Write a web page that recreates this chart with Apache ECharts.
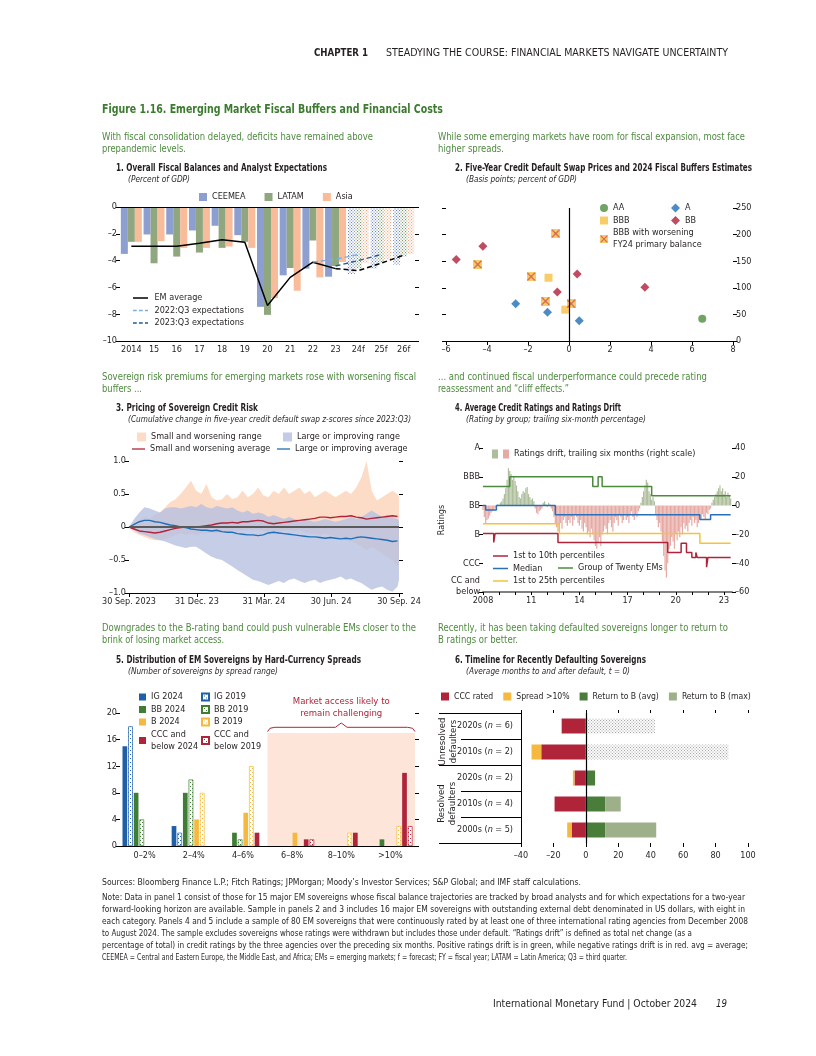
<!DOCTYPE html>
<html><head><meta charset="utf-8">
<script src="https://cdn.jsdelivr.net/npm/echarts@6/dist/echarts.min.js"></script>
<style>
html,body{margin:0;padding:0;background:#fff;}
#page{position:relative;width:816px;height:1056px;overflow:hidden;font-family:'Liberation Sans Narrow','DejaVu Sans Condensed','Roboto Condensed',Roboto,sans-serif;color:#231f20;}
#chart{position:absolute;left:0;top:0;width:816px;height:1056px;}
.t{position:absolute;white-space:nowrap;transform-origin:0 50%;line-height:1.15;}
</style></head>
<body><div id="page"><div id="chart"></div></div>
<script>
// ---------------- DATA ----------------
// Panel 1
const p1Cats = ['2014','15','16','17','18','19','20','21','22','23','24f','25f','26f'];
const p1FirstForecast = 10;
const p1CEEMEA = [-3.5,-2.05,-2.05,-1.75,-1.4,-2.1,-7.45,-5.1,-4.6,-5.2,-5.0,-4.6,-4.3];
const p1LATAM = [-2.6,-4.2,-3.7,-3.4,-3.05,-2.6,-8.05,-4.55,-2.5,-4.4,-4.6,-4.2,-3.7];
const p1Asia = [-2.6,-2.55,-3.05,-3.05,-2.95,-3.05,-6.8,-6.25,-5.25,-4.1,-4.2,-3.9,-3.5];
const p1EMavg = [-2.93,-2.93,-2.93,-2.7,-2.45,-2.63,-7.35,-5.25,-4.12,-4.6,null,null,null];
const p1EMfcst = [null,null,null,null,null,null,null,null,null,-4.6,-4.75,-4.2,-3.6];
const p1Exp2022 = [null,null,null,null,null,null,null,null,-4.1,-3.9,-3.55,null,null];
const p1Exp2023 = [null,null,null,null,null,null,null,null,null,-4.4,-4.0,-3.55,null];
// Panel 2  [fiscal buffer, CDS bp]
const p2AA = [[6.5,42]];
const p2A = [[-2.6,70],[-1.05,54],[0.5,38]];
const p2BBB = [[-1.0,119],[-0.18,59]];
const p2BB = [[-4.2,178],[-5.5,153],[0.4,126],[-0.57,92],[3.7,101]];
const p2BBBw = [[-0.65,202],[-4.45,144],[-1.85,121],[-1.15,75],[0.1,70]];
// Panel 3 (days since 30 Sep 2023)
const p3Days = [0,7,14,21,28,35,42,49,56,63,70,77,84,91,98,105,112,119,126,133,140,147,154,161,168,175,182,189,196,203,210,217,224,231,238,245,252,259,266,273,280,287,294,301,308,315,322,329,336,343,350,357,364,366];
const p3TickDays = [0,92,183,274,366];
const p3TickLabels = ['30 Sep. 2023','31 Dec. 23','31 Mar. 24','30 Jun. 24','30 Sep. 24'];
const p3SmallAvg = [0,-0.03,-0.06,-0.07,-0.08,-0.09,-0.08,-0.06,-0.04,-0.02,-0.01,0,0,0,0.01,0.02,0.03,0.05,0.06,0.06,0.07,0.06,0.08,0.08,0.09,0.1,0.09,0.06,0.05,0.06,0.07,0.08,0.09,0.1,0.11,0.12,0.13,0.15,0.15,0.14,0.15,0.16,0.16,0.17,0.15,0.14,0.12,0.13,0.14,0.15,0.16,0.17,0.16,0.15];
const p3LargeAvg = [0,0.04,0.08,0.1,0.1,0.08,0.07,0.05,0.03,0.02,0,-0.01,-0.03,-0.04,-0.05,-0.05,-0.06,-0.05,-0.07,-0.08,-0.08,-0.1,-0.11,-0.12,-0.12,-0.13,-0.12,-0.09,-0.08,-0.09,-0.1,-0.11,-0.12,-0.13,-0.14,-0.15,-0.15,-0.16,-0.17,-0.16,-0.17,-0.18,-0.17,-0.18,-0.16,-0.15,-0.16,-0.17,-0.18,-0.19,-0.2,-0.22,-0.21,-0.2];
const p3SmallHi = [0,0.05,0.1,0.15,0.12,0.18,0.22,0.3,0.38,0.42,0.5,0.6,0.7,0.55,0.5,0.65,0.45,0.4,0.42,0.5,0.42,0.45,0.55,0.45,0.5,0.6,0.48,0.45,0.55,0.5,0.6,0.5,0.55,0.6,0.5,0.55,0.45,0.5,0.55,0.5,0.45,0.5,0.55,0.5,0.6,0.75,1.0,0.55,0.4,0.45,0.5,0.55,0.5,0.45];
const p3SmallLo = [0,-0.08,-0.12,-0.15,-0.18,-0.2,-0.2,-0.18,-0.15,-0.12,-0.1,-0.12,-0.1,-0.12,-0.1,-0.1,-0.08,-0.1,-0.08,-0.06,-0.05,-0.06,-0.05,-0.04,-0.05,-0.04,-0.05,-0.1,-0.08,-0.06,-0.05,-0.05,-0.06,-0.05,-0.08,-0.1,-0.1,-0.12,-0.1,-0.12,-0.15,-0.18,-0.2,-0.22,-0.25,-0.3,-0.35,-0.3,-0.35,-0.4,-0.45,-0.5,-0.6,-0.55];
const p3LargeHi = [0,0.12,0.22,0.3,0.28,0.25,0.22,0.28,0.3,0.3,0.28,0.3,0.32,0.3,0.35,0.3,0.28,0.32,0.3,0.28,0.3,0.25,0.22,0.25,0.2,0.22,0.2,0.15,0.18,0.15,0.12,0.15,0.12,0.1,0.12,0.1,0.08,0.1,0.12,0.1,0.08,0.1,0.12,0.15,0.12,0.15,0.2,0.25,0.2,0.15,0.18,0.15,0.12,0.1];
const p3LargeLo = [0,-0.05,-0.1,-0.12,-0.15,-0.18,-0.2,-0.22,-0.25,-0.28,-0.3,-0.32,-0.3,-0.3,-0.35,-0.4,-0.45,-0.48,-0.5,-0.55,-0.6,-0.65,-0.7,-0.75,-0.8,-0.82,-0.85,-0.88,-0.85,-0.82,-0.85,-0.8,-0.78,-0.82,-0.85,-0.82,-0.8,-0.85,-0.82,-0.8,-0.78,-0.75,-0.8,-0.78,-0.82,-0.85,-0.9,-0.95,-0.92,-0.9,-0.95,-0.98,-0.9,-0.8];
// Panel 4 (months since Dec 2008)
const p4XLabels = ['2008','11','14','17','20','23'];
const p4LabelMonths = [0,36,72,108,144,180];
const p4TickMonths = [0,12,24,36,48,60,72,84,96,108,120,132,144,156,168,180];
const p4RatingLabels = ['CC and\nbelow','CCC','B','BB','BBB','A'];
const p4Drift = [-3,-8,-12,-10,-9,-7,-5,-4,-3,-2,-1,1,0,2,3,5,8,12,18,26,24,22,18,20,17,14,10,6,5,8,10,9,12,13,8,6,4,5,3,-2,-5,-6,-4,-3,-2,2,3,1,-1,2,1,-2,-4,-8,-12,-15,-18,-14,-12,-16,-10,-8,-12,-14,-10,-12,-8,-14,-10,-6,-8,-12,-14,-10,-16,-18,-12,-15,-20,-18,-22,-16,-20,-24,-28,-30,-26,-22,-28,-20,-18,-14,-16,-20,-12,-10,-15,-18,-12,-8,-10,-14,-6,-8,-12,-10,-6,-10,-8,-12,-6,-4,-8,-10,-6,-8,-4,-2,2,6,10,14,18,16,10,8,4,6,3,-6,-10,-15,-12,-18,-25,-35,-45,-50,-40,-30,-28,-22,-25,-30,-20,-24,-18,-22,-15,-20,-12,-16,-14,-18,-12,-10,-14,-8,-12,-10,-15,-12,-8,-10,-6,-8,-10,-5,-6,-3,-2,2,4,6,8,10,12,14,10,12,8,10,6,9,7,5];
const p4G20 = [[0,3.66],[20,4.0],[82,3.66],[86,4.0],[89,3.66],[126,3.34],[185,3.34]];
const p4Median = [[0,3.0],[2,2.85],[10,3.0],[54,2.68],[162,2.52],[170,2.68],[185,2.68]];
const p4P25 = [[0,2.37],[57,2.03],[162,1.69],[185,1.69]];
const p4P10 = [[0,2.03],[8,1.72],[9,2.03],[56,1.72],[138,1.37],[148,1.69],[152,1.37],[156,1.2],[159,1.37],[160,1.2],[167,0.86],[168,1.2],[185,1.2]];
// Panel 5
const p5Cats = ['0–2%','2–4%','4–6%','6–8%','8–10%','>10%'];
const p5IG2024 = [15,3,0,0,0,0];
const p5IG2019 = [18,2,0,0,0,0];
const p5BB2024 = [8,8,2,0,0,1];
const p5BB2019 = [4,10,1,0,0,0];
const p5B2024 = [0,4,5,2,0,0];
const p5B2019 = [0,8,12,0,2,3];
const p5CCC2024 = [0,0,2,1,2,11];
const p5CCC2019 = [0,0,0,1,0,3];
const p5Brace = [[3,17.2],[3.05,17.7],[3.15,17.85],[4.38,17.85],[4.5,18.5],[4.62,17.85],[5.85,17.85],[5.95,17.7],[6,17.2]];
// Panel 6
const p6Cats = ['2020s (n = 6)','2010s (n = 2)','2020s (n = 2)','2010s (n = 4)','2000s (n = 5)'];
const p6GroupEdges = [0,2,5]; // group boundaries (category index): unresolved = 0-1, resolved = 2-4
const p6CCC = [-14.8,-27.5,-7,-19.3,-8.8];
const p6Spread = [-0.5,-6,-1,0,-2.7];
const p6ReturnAvg = [null,null,5.7,11.9,11.9];
const p6ReturnMax = [null,null,5.7,21.5,43.4];
const p6Unresolved = [42.6,88,null,null,null];

// ---------------- STYLE ----------------
const FONT = "'Liberation Sans Narrow','DejaVu Sans Condensed','Roboto Condensed',Roboto,sans-serif";
const INK = '#231f20';
const FS = 9;
const AX = {fontFamily: FONT, fontSize: FS, color: INK};
const C = {
  ceemea:'#8c9fd0', latam:'#8fa67f', asia:'#f9bc9b',
  aa:'#4e8c3e', a:'#1f6fb8', bbb:'#f6c143', bb:'#b21f3a',
  peach:'#fcdcc6', lav:'#c3cbe6', red:'#b0243a', blue:'#1f6fb8',
  g20:'#4a8b3c', med:'#2a6fb8', p25:'#f3c33b', p10:'#b0243a', dG:'#aebd9c', dR:'#e6a9a4',
  ig:'#1f5fa8', bbc:'#3f7d35', bc:'#f5b93f', ccc:'#b0243a',
  avg:'#4a7d3a', max:'#9db08a', unres:'#a8a8a8'
};
const SOLID = 'path://M0,0H20V2H0Z';
const DASHED = 'path://M0,0H5V2H0Z M8,0H13V2H8Z M16,0H20V2H16Z';
function dots(color, step, dot, bg) {
  const c = document.createElement('canvas'); c.width = step; c.height = step;
  const g = c.getContext('2d');
  if (bg) { g.fillStyle = bg; g.fillRect(0,0,step,step); }
  g.fillStyle = color;
  g.fillRect(0,0,dot,dot);
  g.fillRect(step/2,step/2,dot,dot);
  return {image: c, repeat: 'repeat'};
}
function xSquare() {
  const c = document.createElement('canvas'); c.width = 24; c.height = 24;
  const g = c.getContext('2d');
  g.fillStyle = C.bbb; g.fillRect(0,0,24,24);
  g.strokeStyle = '#cc3f27'; g.lineWidth = 3.2; g.beginPath();
  g.moveTo(2,2); g.lineTo(22,22); g.moveTo(22,2); g.lineTo(2,22); g.stroke();
  return 'image://' + c.toDataURL();
}
const XSQ = xSquare();
const dash = v => (v < 0 ? '–' : '') + Math.abs(v);
const tickStyle = {lineStyle:{color:'#000', width:1}};
const noSplit = {show:false};

function yVal(grid, min, max, interval, pos, labels, fmt, extra) {
  return Object.assign({gridIndex:grid, type:'value', min, max, interval, position:pos,
    axisLine:{show:false, onZero:false}, axisTick:{show:true, length:4, ...tickStyle},
    axisLabel:{show:labels, ...AX, margin:3, formatter:fmt || dash}, splitLine:noSplit}, extra || {});
}

// ---------------- AXES ----------------
const xAxis = [
  {gridIndex:0, type:'category', data:p1Cats, axisLine:{onZero:false, lineStyle:{color:'#000'}}, axisTick:{length:4, ...tickStyle}, axisLabel:{...AX, margin:4, interval:0}},
  {gridIndex:1, type:'value', min:-6, max:8, interval:2, axisLine:{onZero:false, lineStyle:{color:'#000'}}, axisTick:{length:4, ...tickStyle}, axisLabel:{...AX, margin:4, formatter:dash}, splitLine:noSplit},
  {gridIndex:2, type:'value', min:0, max:366, axisLine:{onZero:false, lineStyle:{color:'#000'}}, axisTick:{length:4, customValues:p3TickDays, ...tickStyle}, axisLabel:{...AX, margin:4, customValues:p3TickDays, formatter:v => p3TickLabels[p3TickDays.indexOf(v)]}, splitLine:noSplit},
  {gridIndex:3, type:'value', min:0, max:186, axisLine:{onZero:false, lineStyle:{color:'#808080', width:2}}, axisTick:{length:3, customValues:p4TickMonths, ...tickStyle}, axisLabel:{...AX, margin:4, customValues:p4LabelMonths, formatter:v => p4XLabels[p4LabelMonths.indexOf(v)]}, splitLine:noSplit},
  {gridIndex:4, type:'category', data:p5Cats, axisLine:{onZero:false, lineStyle:{color:'#000'}}, axisTick:{length:4, ...tickStyle}, axisLabel:{...AX, margin:5, interval:0}},
  {gridIndex:4, type:'value', min:0, max:6, show:false},
  {gridIndex:5, type:'value', min:-40, max:100, interval:20, position:'bottom', axisLine:{show:false, onZero:false}, axisTick:{show:true, length:4, ...tickStyle}, axisLabel:{...AX, margin:8, formatter:dash}, splitLine:noSplit},
  {gridIndex:5, type:'value', min:-40, max:100, interval:20, position:'top', axisLine:{show:false, onZero:false}, axisTick:{show:true, length:3, ...tickStyle}, axisLabel:{show:false}, splitLine:noSplit}
];
const yAxis = [
  yVal(0,-10,0,2,'left',true),
  yVal(0,-10,0,2,'right',false),
  yVal(1,0,250,50,'left',false),
  yVal(1,0,250,50,'right',true),
  yVal(2,-1,1,0.5,'left',true, v => v === 0 ? '0' : (v < 0 ? '–' : '') + Math.abs(v).toFixed(1)),
  yVal(2,-1,1,0.5,'right',false),
  yVal(3,0,5,1,'left',true, v => v === 0 ? '{cc|' + p4RatingLabels[0] + '}' : p4RatingLabels[v],
    {name:'Ratings', nameLocation:'middle', nameRotate:90, nameGap:37, nameTextStyle:{...AX}}),
  yVal(3,-60,40,20,'right',true),
  yVal(4,0,20,4,'left',true),
  yVal(4,0,20,4,'right',false),
  {gridIndex:5, type:'category', inverse:true, data:p6Cats, axisLine:{show:true, onZero:false, lineStyle:{color:'#000'}},
   axisTick:{show:true, length:60, alignWithLabel:false, interval:0, ...tickStyle},
   axisLabel:{...AX, margin:8, interval:0, formatter: v => v.replace(/\(n = (\d+)\)/, '({i|n} = $1)'), rich:{i:{...AX, fontStyle:'italic'}}}}
];
yAxis[6].axisLabel.rich = {cc:{...AX, lineHeight:11, align:'right', padding:[0,0,11,0]}};

// ---------------- SERIES ----------------
const series = [];
const zeroLine = (axis, color, width) => ({silent:true, symbol:'none', label:{show:false}, lineStyle:{color, type:'solid', width}, data:[{[axis]:0}], animation:false});
// panel 1
[['CEEMEA',p1CEEMEA,C.ceemea,'#6f86c6'],['LATAM',p1LATAM,C.latam,'#7b966a'],['Asia',p1Asia,C.asia,'#f3a57c']].forEach(([n,arr,col,dcol]) => {
  const pat = dots(dcol, 3, 1.1, null);
  series.push({name:n, type:'bar', xAxisIndex:0, yAxisIndex:0, barWidth:7, barGap:'0%', itemStyle:{color:col},
    data: arr.map((v,i) => i >= p1FirstForecast ? {value:v, itemStyle:{color:pat}} : v)});
});
series.push({name:'EM average', type:'line', xAxisIndex:0, yAxisIndex:0, data:p1EMavg, symbol:'none', color:'#000', lineStyle:{color:'#000', width:1.5}, markLine:zeroLine('yAxis','#000',1), z:3});
series.push({name:'EM average forecast', type:'line', xAxisIndex:0, yAxisIndex:0, data:p1EMfcst, symbol:'none', lineStyle:{color:'#000', width:1.5, type:[5,3]}, z:3});
series.push({name:'2022:Q3 expectations', type:'line', xAxisIndex:0, yAxisIndex:0, data:p1Exp2022, symbol:'none', color:'#7aaee0', lineStyle:{color:'#7aaee0', width:1.4, type:[5,3]}, z:3});
series.push({name:'2023:Q3 expectations', type:'line', xAxisIndex:0, yAxisIndex:0, data:p1Exp2023, symbol:'none', color:'#1f5c99', lineStyle:{color:'#1f5c99', width:1.4, type:[5,3]}, z:3});
// panel 2
series.push({name:'AA', type:'scatter', xAxisIndex:1, yAxisIndex:2, data:p2AA, symbol:'circle', symbolSize:8, itemStyle:{color:C.aa}, markLine:zeroLine('xAxis','#000',1.2)});
series.push({name:'A', type:'scatter', xAxisIndex:1, yAxisIndex:2, data:p2A, symbol:'diamond', symbolSize:9, itemStyle:{color:C.a}});
series.push({name:'BBB', type:'scatter', xAxisIndex:1, yAxisIndex:2, data:p2BBB, symbol:'rect', symbolSize:8, itemStyle:{color:C.bbb}});
series.push({name:'BB', type:'scatter', xAxisIndex:1, yAxisIndex:2, data:p2BB, symbol:'diamond', symbolSize:9, itemStyle:{color:C.bb}});
series.push({name:'BBB with worsening\nFY24 primary balance', type:'scatter', xAxisIndex:1, yAxisIndex:2, data:p2BBBw, symbol:XSQ, symbolSize:9, itemStyle:{color:C.bbb}});
// panel 3 ranges as polygons drawn through the axes
function band(name, hi, lo, color, opacity) {
  return {name, type:'custom', xAxisIndex:2, yAxisIndex:4, data:p3Days.map((d,i) => [d, lo[i], hi[i]]),
    encode:{x:0, y:[1,2]}, itemStyle:{color}, silent:true,
    renderItem: (params, api) => {
      if (params.dataIndex !== 0) return null;
      const pts = [];
      for (let i = 0; i < p3Days.length; i++) pts.push(api.coord([p3Days[i], hi[i]]));
      for (let i = p3Days.length - 1; i >= 0; i--) pts.push(api.coord([p3Days[i], lo[i]]));
      return {type:'polygon', shape:{points:pts}, style:{fill:color, opacity}};
    }};
}
series.push(band('Small and worsening range', p3SmallHi, p3SmallLo, C.peach, 1));
series.push(band('Large or improving range', p3LargeHi, p3LargeLo, '#b7c0e1', 0.8));
const pair = (xs, ys) => xs.map((x,i) => [x, ys[i]]);
series.push({name:'zero3', type:'line', xAxisIndex:2, yAxisIndex:4, data:[], markLine:zeroLine('yAxis','#5a5a5a',2.2), z:3});
series.push({name:'Small and worsening average', type:'line', xAxisIndex:2, yAxisIndex:4, data:pair(p3Days,p3SmallAvg), symbol:'none', color:C.red, lineStyle:{color:C.red, width:1.4}, z:4});
series.push({name:'Large or improving average', type:'line', xAxisIndex:2, yAxisIndex:4, data:pair(p3Days,p3LargeAvg), symbol:'none', color:C.blue, lineStyle:{color:C.blue, width:1.4}, z:4});
// panel 4
series.push({name:'drift+', type:'bar', xAxisIndex:3, yAxisIndex:7, barWidth:1.2, itemStyle:{color:C.dG}, data:p4Drift.map((v,i) => [i, v > 0 ? v : null])});
series.push({name:'Ratings drift, trailing six months (right scale)', type:'bar', xAxisIndex:3, yAxisIndex:7, barWidth:1.2, barGap:'-100%', itemStyle:{color:C.dR}, data:p4Drift.map((v,i) => [i, v < 0 ? v : null])});
[['Group of Twenty EMs',p4G20,C.g20],['Median',p4Median,C.med],['1st to 25th percentiles',p4P25,C.p25],['1st to 10th percentiles',p4P10,C.p10]].forEach(([n,d,col]) => {
  series.push({name:n, type:'line', step:'end', xAxisIndex:3, yAxisIndex:6, data:d, symbol:'none', color:col, lineStyle:{color:col, width:1.5}, z:3});
});
// panel 5
series.push({name:'shade5', type:'line', xAxisIndex:5, yAxisIndex:8, data:[], silent:true,
  markArea:{silent:true, itemStyle:{color:'#fde6d9'}, data:[[{xAxis:3, yAxis:0},{xAxis:6, yAxis:17}]]}, z:0});
[['IG 2024',p5IG2024,C.ig,false],['IG 2019',p5IG2019,C.ig,true],['BB 2024',p5BB2024,C.bbc,false],['BB 2019',p5BB2019,C.bbc,true],
 ['B 2024',p5B2024,C.bc,false],['B 2019',p5B2019,C.bc,true],['CCC and\nbelow 2024',p5CCC2024,C.ccc,false],['CCC and\nbelow 2019',p5CCC2019,C.ccc,true]].forEach(([n,d,col,pat]) => {
  series.push({name:n, type:'bar', xAxisIndex:4, yAxisIndex:8, barWidth:4.7, barGap:'20%', data:d.map(v => v === 0 ? null : v),
    itemStyle: pat ? {color:dots(col,4,1,'#ffffff'), borderColor:col, borderWidth:0.7} : {color:col}, z:2});
});
series.push({name:'brace5', type:'line', xAxisIndex:5, yAxisIndex:8, data:p5Brace, symbol:'none', silent:true, lineStyle:{color:C.ccc, width:1},
  markPoint:{symbol:'circle', symbolSize:0, silent:true, data:[{coord:[4.5,18.5]}],
    label:{show:true, position:'top', distance:3, formatter:'Market access likely to\nremain challenging', ...AX, fontSize:9.5, color:C.ccc, lineHeight:12, align:'center'}}});
// panel 6
const p6Extra = p6ReturnMax.map((v,i) => v == null ? null : +(v - p6ReturnAvg[i]).toFixed(2));
series.push({name:'CCC rated', type:'bar', xAxisIndex:6, yAxisIndex:10, stack:'t', barWidth:15, data:p6CCC, itemStyle:{color:C.ccc}, markLine:zeroLine('xAxis','#000',1.2)});
series.push({name:'Spread >10%', type:'bar', xAxisIndex:6, yAxisIndex:10, stack:'t', barWidth:15, data:p6Spread, itemStyle:{color:C.bc}});
series.push({name:'Return to B (avg)', type:'bar', xAxisIndex:6, yAxisIndex:10, stack:'t', barWidth:15, data:p6ReturnAvg, itemStyle:{color:C.avg}});
series.push({name:'Return to B (max)', type:'bar', xAxisIndex:6, yAxisIndex:10, stack:'t', barWidth:15, data:p6Extra, itemStyle:{color:C.max}});
series.push({name:'Unresolved', type:'bar', xAxisIndex:6, yAxisIndex:10, stack:'t', barWidth:15, data:p6Unresolved, itemStyle:{color:dots(C.unres,3,1.1,'#ffffff')}});

// ---------------- LEGENDS ----------------
const LG = (o) => Object.assign({textStyle:{...AX, lineHeight:12}, itemGap:0.5, selectedMode:false, padding:0}, o);
const legend = [
  LG({data:['CEEMEA','LATAM','Asia'], left:199, top:191, itemWidth:8, itemHeight:8, itemGap:19, icon:'rect'}),
  LG({data:[{name:'EM average', icon:SOLID},{name:'2022:Q3 expectations', icon:DASHED},{name:'2023:Q3 expectations', icon:DASHED}], orient:'vertical', left:133, top:292, itemWidth:18, itemHeight:1.5}),
  LG({data:['AA','BBB',{name:'BBB with worsening\nFY24 primary balance', icon:XSQ}], orient:'vertical', left:600, top:202, itemWidth:8, itemHeight:8, itemGap:0.5}),
  LG({data:['A','BB'], orient:'vertical', left:671, top:202, itemWidth:9, itemHeight:9}),
  LG({data:[{name:'Small and worsening range', icon:'rect', itemStyle:{color:C.peach}}], left:137, top:431, itemWidth:9, itemHeight:9}),
  LG({data:[{name:'Large or improving range', icon:'rect', itemStyle:{color:C.lav}}], left:283, top:431, itemWidth:9, itemHeight:9}),
  LG({data:[{name:'Small and worsening average', icon:SOLID}], left:132, top:443, itemWidth:13, itemHeight:1.5}),
  LG({data:[{name:'Large or improving average', icon:SOLID}], left:277, top:443, itemWidth:13, itemHeight:1.5}),
  LG({data:['drift+','Ratings drift, trailing six months (right scale)'], left:492, top:448, itemWidth:6, itemHeight:9, itemGap:0, icon:'rect', formatter: n => n === 'drift+' ? '' : n}),
  LG({data:[{name:'1st to 10th percentiles', icon:SOLID},{name:'Median', icon:SOLID},{name:'1st to 25th percentiles', icon:SOLID}], orient:'vertical', left:493, top:550, itemWidth:15, itemHeight:1.5}),
  LG({data:[{name:'Group of Twenty EMs', icon:SOLID}], left:558, top:562, itemWidth:15, itemHeight:1.5}),
  LG({data:['IG 2024','BB 2024','B 2024','CCC and\nbelow 2024'], orient:'vertical', left:139, top:691, itemWidth:7, itemHeight:7, icon:'rect'}),
  LG({data:['IG 2019','BB 2019','B 2019','CCC and\nbelow 2019'], orient:'vertical', left:201, top:691, itemWidth:7, itemHeight:7, icon:'rect'}),
  LG({data:['CCC rated','Spread >10%','Return to B (avg)','Return to B (max)'], left:441, top:692, itemWidth:8, itemHeight:8, itemGap:10, icon:'rect', textStyle:{...AX, fontSize:8.6}})
];

const chart = echarts.init(document.getElementById('chart'), null, {renderer:'canvas'});
chart.setOption({
  animation:false,
  textStyle:{fontFamily:FONT, color:INK},
  grid:[
    {left:120, top:207, width:295, height:134, outerBoundsMode:'none', containLabel:false},
    {left:446, top:208, width:287, height:133, outerBoundsMode:'none', containLabel:false},
    {left:129, top:461, width:270, height:132, outerBoundsMode:'none', containLabel:false},
    {left:483, top:448, width:249, height:144, outerBoundsMode:'none', containLabel:false},
    {left:120, top:713, width:295, height:133, outerBoundsMode:'none', containLabel:false},
    {left:521, top:713, width:227, height:130, outerBoundsMode:'none', containLabel:false}
  ],
  xAxis, yAxis, series, legend
});
// panel 6: longer separator lines at the group boundaries, placed from the category axis
(function () {
  const c0 = chart.convertToPixel({yAxisIndex:10}, p6Cats[0]);
  const c1 = chart.convertToPixel({yAxisIndex:10}, p6Cats[1]);
  const band = c1 - c0;
  const x1 = chart.convertToPixel({xAxisIndex:6}, -40);
  const els = p6GroupEdges.map(k => {
    const y = Math.round(c0 + (k - 0.5) * band) + 0.5;
    return {type:'line', silent:true, shape:{x1:x1 - 82, y1:y, x2:x1, y2:y}, style:{stroke:'#000', lineWidth:1}};
  });
  chart.setOption({graphic:els});
})();

// ---------------- TEXT (HTML) ----------------
const page = document.getElementById('page');
const GREEN = '#3c7b2f', LGREEN = '#4f8a40';
function addText(html, x, y, size, o) {
  o = o || {};
  const d = document.createElement('div');
  d.className = 't'; d.innerHTML = html;
  d.style.left = x + 'px'; d.style.fontSize = size + 'px';
  d.style.top = (y - size * 0.6) + 'px';
  if (o.bold) d.style.fontWeight = 'bold';
  if (o.italic) d.style.fontStyle = 'italic';
  d.style.color = o.color || INK;
  page.appendChild(d);
  if (o.w) { const w = d.getBoundingClientRect().width; d.style.transform = 'scaleX(' + (o.w / w).toFixed(4) + ')'; }
  return d;
}
addText('<b>CHAPTER 1</b>', 314, 52, 10.5, {w:54});
addText('STEADYING THE COURSE: FINANCIAL MARKETS NAVIGATE UNCERTAINTY', 386, 52, 10.5, {w:342});
addText('Figure 1.16. Emerging Market Fiscal Buffers and Financial Costs', 102, 110, 13, {bold:true, color:GREEN, w:341});
addText('With fiscal consolidation delayed, deficits have remained above', 102, 138, 11, {color:LGREEN, w:271});
addText('prepandemic levels.', 102, 150, 11, {color:LGREEN, w:84});
addText('While some emerging markets have room for fiscal expansion, most face', 438, 138, 11, {color:LGREEN, w:307});
addText('higher spreads.', 438, 150, 11, {color:LGREEN, w:66});
addText('1. Overall Fiscal Balances and Analyst Expectations', 116, 168, 10, {bold:true, w:211});
addText('(Percent of GDP)', 128, 180, 9.5, {italic:true, w:62});
addText('2. Five-Year Credit Default Swap Prices and 2024 Fiscal Buffers Estimates', 455, 168, 10, {bold:true, w:297});
addText('(Basis points; percent of GDP)', 466, 180, 9.5, {italic:true, w:111});
addText('Sovereign risk premiums for emerging markets rose with worsening fiscal', 102, 378, 11, {color:LGREEN, w:314});
addText('buffers ...', 102, 390, 11, {color:LGREEN, w:40});
addText('... and continued fiscal underperformance could precede rating', 438, 378, 11, {color:LGREEN, w:269});
addText('reassessment and “cliff effects.”', 438, 390, 11, {color:LGREEN, w:131});
addText('3. Pricing of Sovereign Credit Risk', 116, 408, 10, {bold:true, w:142});
addText('(Cumulative change in five-year credit default swap z-scores since 2023:Q3)', 128, 420, 9.5, {italic:true, w:283});
addText('4. Average Credit Ratings and Ratings Drift', 455, 408, 10, {bold:true, w:166});
addText('(Rating by group; trailing six-month percentage)', 466, 420, 9.5, {italic:true, w:180});
addText('Downgrades to the B-rating band could push vulnerable EMs closer to the', 102, 629, 11, {color:LGREEN, w:314});
addText('brink of losing market access.', 102, 641, 11, {color:LGREEN, w:122});
addText('Recently, it has been taking defaulted sovereigns longer to return to', 438, 629, 11, {color:LGREEN, w:290});
addText('B ratings or better.', 438, 641, 11, {color:LGREEN, w:80});
addText('5. Distribution of EM Sovereigns by Hard-Currency Spreads', 116, 660, 10, {bold:true, w:245});
addText('(Number of sovereigns by spread range)', 128, 672, 9.5, {italic:true, w:150});
addText('6. Timeline for Recently Defaulting Sovereigns', 455, 660, 10, {bold:true, w:191});
addText('(Average months to and after default, <i>t</i> = 0)', 466, 672, 9.5, {italic:true, w:164});
addText('Sources: Bloomberg Finance L.P.; Fitch Ratings; JPMorgan; Moody’s Investor Services; S&amp;P Global; and IMF staff calculations.', 102, 883, 9.3, {w:479});
const notes = [
  ['Note: Data in panel 1 consist of those for 15 major EM sovereigns whose fiscal balance trajectories are tracked by broad analysts and for which expectations for a two-year', 643],
  ['forward-looking horizon are available. Sample in panels 2 and 3 includes 16 major EM sovereigns with outstanding external debt denominated in US dollars, with eight in', 643],
  ['each category. Panels 4 and 5 include a sample of 80 EM sovereigns that were continuously rated by at least one of three international rating agencies from December 2008', 646],
  ['to August 2024. The sample excludes sovereigns whose ratings were withdrawn but includes those under default. “Ratings drift” is defined as total net change (as a', 590],
  ['percentage of total) in credit ratings by the three agencies over the preceding six months. Positive ratings drift is in green, while negative ratings drift is in red. avg = average;', 646],
  ['CEEMEA = Central and Eastern Europe, the Middle East, and Africa; EMs = emerging markets; f = forecast; FY = fiscal year; LATAM = Latin America; Q3 = third quarter.', 525]
];
notes.forEach(([s,w],i) => addText(s, 102, 898 + i * 12, 9.3, {w}));
addText('International Monetary Fund | October 2024', 493, 1003, 10.5, {w:204});
addText('19', 716, 1003, 10.5, {italic:true, w:11});
function addRot(html, cx, cy, size) {
  const d = document.createElement('div');
  d.className = 't'; d.innerHTML = html; d.style.fontSize = size + 'px'; d.style.textAlign = 'center'; d.style.lineHeight = '10.5px';
  page.appendChild(d);
  const r = d.getBoundingClientRect();
  d.style.left = (cx - r.width / 2) + 'px'; d.style.top = (cy - r.height / 2) + 'px';
  d.style.transformOrigin = '50% 50%'; d.style.transform = 'rotate(-90deg)';
}
addRot('Unresolved<br>defaulters', 447, 741, 9.5);
addRot('Resolved<br>defaulters', 447, 803, 9.5);
</script>
</body></html>
